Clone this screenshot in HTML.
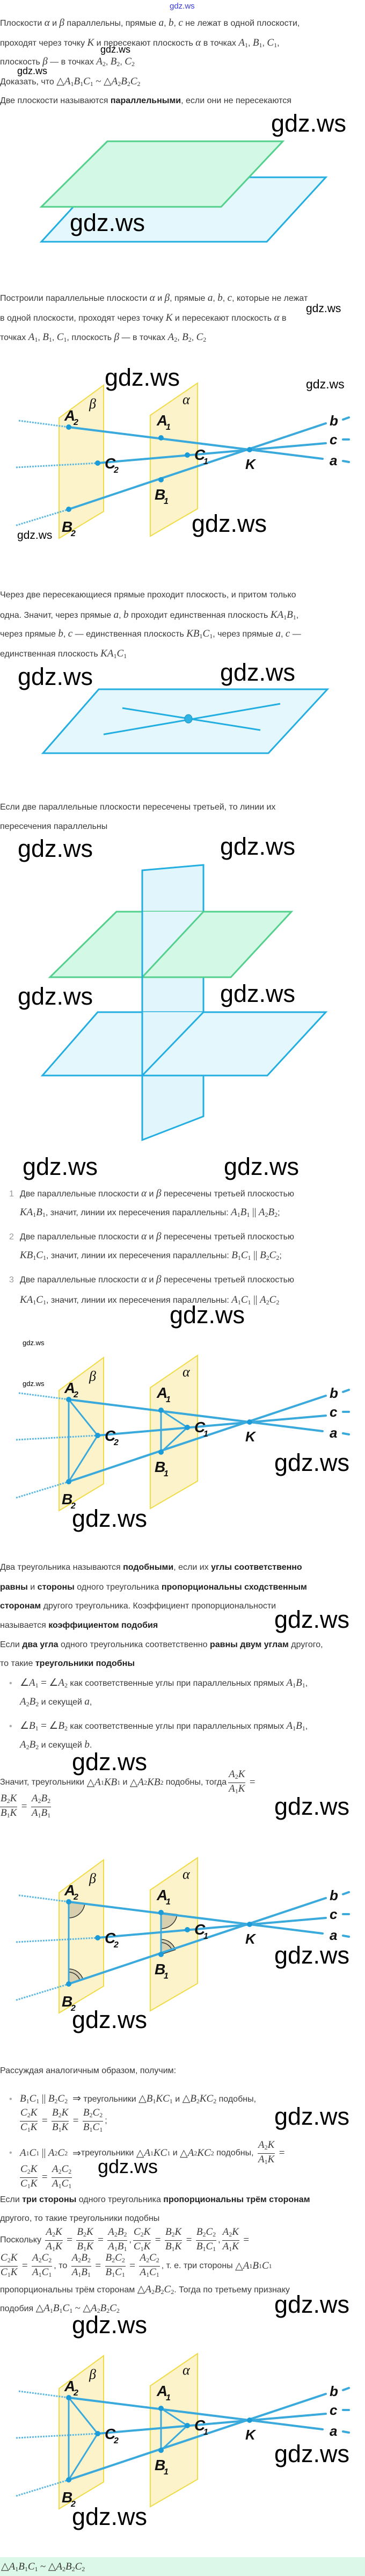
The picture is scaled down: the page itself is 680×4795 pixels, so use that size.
<!DOCTYPE html>
<html><head><meta charset="utf-8">
<style>
html,body{margin:0;padding:0}
body{width:680px;height:4795px;position:relative;background:#fff;overflow:hidden;font-family:"Liberation Sans",sans-serif;color:#3a3a3a}
.t{position:absolute;white-space:nowrap;font-size:16px;line-height:22px}
.m{font-family:"Liberation Serif",serif;font-style:italic;font-size:19px}
.r{font-family:"Liberation Serif",serif;font-size:19px}
sub{font-size:12px;vertical-align:-3px;font-style:normal;font-family:"Liberation Serif",serif}
b{color:#222}
.w{position:absolute;font-family:"Liberation Sans",sans-serif;font-size:45px;line-height:45px;color:#000;white-space:nowrap}
.ws{position:absolute;font-family:"Liberation Sans",sans-serif;color:#000;white-space:nowrap}
.fl{position:absolute;white-space:nowrap;display:flex;align-items:center;font-size:16px;height:46px}
.f{display:inline-flex;flex-direction:column;text-align:center;margin:0 3px}
.f>span{display:block;line-height:21px;padding:0 1px}
.f>span:first-child{border-bottom:1px solid #333}
.n{color:#999;display:inline-block;width:37px;padding-left:17px;box-sizing:border-box}
svg text{font-family:"Liberation Sans Narrow","Liberation Sans",sans-serif;font-style:italic;font-weight:bold;fill:#111}
</style></head><body>
<svg width="680" height="4795" style="position:absolute;left:0;top:0">
<!-- diagram 1: parallel planes -->
<polygon points="187,330 607,330 497,450 77,450" fill="#e3f7fd" stroke="#22aee0" stroke-width="3"/>
<polygon points="200,263 527,263 412,385 77,385" fill="#d3f8e6" stroke="#52d08c" stroke-width="3"/>

<!-- plane with intersecting lines -->
<polygon points="184,1283 610,1283 500,1402 80,1402" fill="#e3f7fd" stroke="#22aee0" stroke-width="3"/>
<line x1="228" y1="1318" x2="485" y2="1359" stroke="#22aee0" stroke-width="3"/>
<line x1="193" y1="1367" x2="522" y2="1310" stroke="#22aee0" stroke-width="3"/>
<ellipse cx="351" cy="1338" rx="7" ry="8" fill="#2db3e4" stroke="#1a90c0" stroke-width="1"/>

<!-- three planes -->
<polygon points="265,1620 379,1610 379,2078 265,2122" fill="#e0f6fc" stroke="#22aee0" stroke-width="3"/>
<polygon points="182,1884 607,1884 498,2002 79,2002" fill="#e3f7fd" stroke="#22aee0" stroke-width="3"/>
<polygon points="265,1884 379,1884 265,2002" fill="#e0f6fc"/>
<polyline points="379,1884 265,2002" fill="none" stroke="#22aee0" stroke-width="3"/>
<line x1="265" y1="1884" x2="265" y2="2122" stroke="#22aee0" stroke-width="3"/>
<polygon points="217,1697 543,1697 430,1819 93,1819" fill="#d3f8e6" stroke="#52d08c" stroke-width="3"/>
<polygon points="265,1697 379,1697 265,1819" fill="#e0f6fc"/>
<polyline points="379,1697 265,1819" fill="none" stroke="#52d08c" stroke-width="3"/>
<line x1="265" y1="1620" x2="265" y2="2122" stroke="#22aee0" stroke-width="3"/>

<!-- instance 1 -->
<g transform="translate(0,0)">
<polygon points="110,778 193,717 193,952 110,1002" fill="#fcf1c2" fill-opacity="0.85" stroke="#f0dc48" stroke-width="2"/>
<polygon points="280,773 368,713 368,947 280,998" fill="#fcf1c2" fill-opacity="0.85" stroke="#f0dc48" stroke-width="2"/>
<g stroke="#5ab8e2" stroke-width="3" stroke-dasharray="3 2"><line x1="35" y1="783" x2="128" y2="795"/><line x1="30" y1="870" x2="182" y2="862"/><line x1="30" y1="978" x2="128" y2="948"/></g>
<g stroke="#3aa9dc" stroke-width="4" stroke-linecap="round"><line x1="128" y1="795" x2="601" y2="854"/><line x1="128" y1="948" x2="607" y2="788"/><line x1="182" y1="862" x2="607" y2="825"/><line x1="639" y1="781" x2="650" y2="777"/><line x1="639" y1="818" x2="650" y2="818"/><line x1="639" y1="858" x2="650" y2="860"/></g>
<g fill="#1b9bd8"><circle cx="128" cy="795" r="5"/><circle cx="300" cy="815" r="5"/><circle cx="349" cy="847" r="5"/><circle cx="182" cy="862" r="5"/><circle cx="300" cy="893" r="5"/><circle cx="128" cy="948" r="5"/><circle cx="465" cy="837" r="5"/></g>
<text x="120" y="783" font-size="28">A</text><text x="137" y="791" font-size="16">2</text>
<text x="292" y="792" font-size="28">A</text><text x="309" y="800" font-size="16">1</text>
<text x="362" y="856" font-size="28">C</text><text x="379" y="864" font-size="16">1</text>
<text x="195" y="872" font-size="28">C</text><text x="212" y="880" font-size="16">2</text>
<text x="288" y="930" font-size="28">B</text><text x="305" y="938" font-size="16">1</text>
<text x="115" y="990" font-size="28">B</text><text x="132" y="998" font-size="16">2</text>
<text x="457" y="873" font-size="26">K</text>
<text x="614" y="792" font-size="26">b</text><text x="614" y="827" font-size="26">c</text><text x="614" y="866" font-size="26">a</text>
<text x="166" y="760" font-size="26" style="font-family:'Liberation Serif',serif;font-weight:normal">β</text>
<text x="340" y="752" font-size="26" style="font-family:'Liberation Serif',serif;font-weight:normal">α</text>
</g>

<!-- instance 2 -->
<g transform="translate(0,1810)">
<polygon points="110,778 193,717 193,952 110,1002" fill="#fcf1c2" fill-opacity="0.85" stroke="#f0dc48" stroke-width="2"/>
<polygon points="280,773 368,713 368,947 280,998" fill="#fcf1c2" fill-opacity="0.85" stroke="#f0dc48" stroke-width="2"/>
<g stroke="#5ab8e2" stroke-width="3" stroke-dasharray="3 2"><line x1="35" y1="783" x2="128" y2="795"/><line x1="30" y1="870" x2="182" y2="862"/><line x1="30" y1="978" x2="128" y2="948"/></g>
<g stroke="#3aa9dc" stroke-width="4" stroke-linecap="round"><line x1="128" y1="795" x2="601" y2="854"/><line x1="128" y1="948" x2="607" y2="788"/><line x1="182" y1="862" x2="607" y2="825"/><line x1="639" y1="781" x2="650" y2="777"/><line x1="639" y1="818" x2="650" y2="818"/><line x1="639" y1="858" x2="650" y2="860"/></g>
<g stroke="#3aa9dc" stroke-width="3"><line x1="128" y1="795" x2="128" y2="948"/><line x1="128" y1="795" x2="182" y2="862"/><line x1="182" y1="862" x2="128" y2="948"/><line x1="300" y1="815" x2="300" y2="893"/><line x1="300" y1="815" x2="349" y2="847"/><line x1="349" y1="847" x2="300" y2="893"/></g>
<g fill="#1b9bd8"><circle cx="128" cy="795" r="5"/><circle cx="300" cy="815" r="5"/><circle cx="349" cy="847" r="5"/><circle cx="182" cy="862" r="5"/><circle cx="300" cy="893" r="5"/><circle cx="128" cy="948" r="5"/><circle cx="465" cy="837" r="5"/></g>
<text x="120" y="783" font-size="28">A</text><text x="137" y="791" font-size="16">2</text>
<text x="292" y="792" font-size="28">A</text><text x="309" y="800" font-size="16">1</text>
<text x="362" y="856" font-size="28">C</text><text x="379" y="864" font-size="16">1</text>
<text x="195" y="872" font-size="28">C</text><text x="212" y="880" font-size="16">2</text>
<text x="288" y="930" font-size="28">B</text><text x="305" y="938" font-size="16">1</text>
<text x="115" y="990" font-size="28">B</text><text x="132" y="998" font-size="16">2</text>
<text x="457" y="873" font-size="26">K</text>
<text x="614" y="792" font-size="26">b</text><text x="614" y="827" font-size="26">c</text><text x="614" y="866" font-size="26">a</text>
<text x="166" y="760" font-size="26" style="font-family:'Liberation Serif',serif;font-weight:normal">β</text>
<text x="340" y="752" font-size="26" style="font-family:'Liberation Serif',serif;font-weight:normal">α</text>
</g>

<!-- instance 3 -->
<g transform="translate(0,2745)">
<polygon points="110,778 193,717 193,952 110,1002" fill="#fcf1c2" fill-opacity="0.85" stroke="#f0dc48" stroke-width="2"/>
<polygon points="280,773 368,713 368,947 280,998" fill="#fcf1c2" fill-opacity="0.85" stroke="#f0dc48" stroke-width="2"/>
<g fill="#d8cfae" stroke="#333" stroke-width="1.5">
<path d="M128,795 L157.8,798.7 A30,30 0 0 1 128,825 Z"/>
<path d="M300,815 L329.8,818.7 A30,30 0 0 1 300,845 Z"/>
<path d="M128,948 L128,920 A28,28 0 0 1 154.6,939.3 Z"/><path d="M128,926 A22,22 0 0 1 148.9,941.2" fill="none"/>
<path d="M300,893 L300,865 A28,28 0 0 1 326.6,884.3 Z"/><path d="M300,871 A22,22 0 0 1 320.9,886.2" fill="none"/>
</g>
<g stroke="#5ab8e2" stroke-width="3" stroke-dasharray="3 2"><line x1="35" y1="783" x2="128" y2="795"/><line x1="30" y1="870" x2="182" y2="862"/><line x1="30" y1="978" x2="128" y2="948"/></g>
<g stroke="#3aa9dc" stroke-width="4" stroke-linecap="round"><line x1="128" y1="795" x2="601" y2="854"/><line x1="128" y1="948" x2="607" y2="788"/><line x1="182" y1="862" x2="607" y2="825"/><line x1="639" y1="781" x2="650" y2="777"/><line x1="639" y1="818" x2="650" y2="818"/><line x1="639" y1="858" x2="650" y2="860"/></g>
<g stroke="#3aa9dc" stroke-width="3"><line x1="128" y1="795" x2="128" y2="948"/><line x1="300" y1="815" x2="300" y2="893"/></g>
<g fill="#1b9bd8"><circle cx="128" cy="795" r="5"/><circle cx="300" cy="815" r="5"/><circle cx="349" cy="847" r="5"/><circle cx="182" cy="862" r="5"/><circle cx="300" cy="893" r="5"/><circle cx="128" cy="948" r="5"/><circle cx="465" cy="837" r="5"/></g>
<text x="120" y="783" font-size="28">A</text><text x="137" y="791" font-size="16">2</text>
<text x="292" y="792" font-size="28">A</text><text x="309" y="800" font-size="16">1</text>
<text x="362" y="856" font-size="28">C</text><text x="379" y="864" font-size="16">1</text>
<text x="195" y="872" font-size="28">C</text><text x="212" y="880" font-size="16">2</text>
<text x="288" y="930" font-size="28">B</text><text x="305" y="938" font-size="16">1</text>
<text x="115" y="990" font-size="28">B</text><text x="132" y="998" font-size="16">2</text>
<text x="457" y="873" font-size="26">K</text>
<text x="614" y="792" font-size="26">b</text><text x="614" y="827" font-size="26">c</text><text x="614" y="866" font-size="26">a</text>
<text x="166" y="760" font-size="26" style="font-family:'Liberation Serif',serif;font-weight:normal">β</text>
<text x="340" y="752" font-size="26" style="font-family:'Liberation Serif',serif;font-weight:normal">α</text>
</g>

<!-- instance 4 -->
<g transform="translate(0,3668)">
<polygon points="110,778 193,717 193,952 110,1002" fill="#fcf1c2" fill-opacity="0.85" stroke="#f0dc48" stroke-width="2"/>
<polygon points="280,773 368,713 368,947 280,998" fill="#fcf1c2" fill-opacity="0.85" stroke="#f0dc48" stroke-width="2"/>
<g stroke="#5ab8e2" stroke-width="3" stroke-dasharray="3 2"><line x1="35" y1="783" x2="128" y2="795"/><line x1="30" y1="870" x2="182" y2="862"/><line x1="30" y1="978" x2="128" y2="948"/></g>
<g stroke="#3aa9dc" stroke-width="4" stroke-linecap="round"><line x1="128" y1="795" x2="601" y2="854"/><line x1="128" y1="948" x2="607" y2="788"/><line x1="182" y1="862" x2="607" y2="825"/><line x1="639" y1="781" x2="650" y2="777"/><line x1="639" y1="818" x2="650" y2="818"/><line x1="639" y1="858" x2="650" y2="860"/></g>
<g stroke="#3aa9dc" stroke-width="3"><line x1="128" y1="795" x2="128" y2="948"/><line x1="128" y1="795" x2="182" y2="862"/><line x1="182" y1="862" x2="128" y2="948"/><line x1="300" y1="815" x2="300" y2="893"/><line x1="300" y1="815" x2="349" y2="847"/><line x1="349" y1="847" x2="300" y2="893"/></g>
<g fill="#1b9bd8"><circle cx="128" cy="795" r="5"/><circle cx="300" cy="815" r="5"/><circle cx="349" cy="847" r="5"/><circle cx="182" cy="862" r="5"/><circle cx="300" cy="893" r="5"/><circle cx="128" cy="948" r="5"/><circle cx="465" cy="837" r="5"/></g>
<text x="120" y="783" font-size="28">A</text><text x="137" y="791" font-size="16">2</text>
<text x="292" y="792" font-size="28">A</text><text x="309" y="800" font-size="16">1</text>
<text x="362" y="856" font-size="28">C</text><text x="379" y="864" font-size="16">1</text>
<text x="195" y="872" font-size="28">C</text><text x="212" y="880" font-size="16">2</text>
<text x="288" y="930" font-size="28">B</text><text x="305" y="938" font-size="16">1</text>
<text x="115" y="990" font-size="28">B</text><text x="132" y="998" font-size="16">2</text>
<text x="457" y="873" font-size="26">K</text>
<text x="614" y="792" font-size="26">b</text><text x="614" y="827" font-size="26">c</text><text x="614" y="866" font-size="26">a</text>
<text x="166" y="760" font-size="26" style="font-family:'Liberation Serif',serif;font-weight:normal">β</text>
<text x="340" y="752" font-size="26" style="font-family:'Liberation Serif',serif;font-weight:normal">α</text>
</g>
</svg>

<!-- header -->
<div class="ws" style="left:316px;top:3px;font-size:15px;color:#3a3ad8">gdz.ws</div>

<div class="t" style="left:0;top:32px">Плоскости <span class="m">α</span> и <span class="m">β</span> параллельны, прямые <span class="m">a</span>, <span class="m">b</span>, <span class="m">c</span> не лежат в одной плоскости,</div>
<div class="t" style="left:0;top:69px">проходят через точку <span class="m">K</span> и пересекают плоскость <span class="m">α</span> в точках <span class="m">A</span><sub>1</sub>, <span class="m">B</span><sub>1</sub>, <span class="m">C</span><sub>1</sub>,</div>
<div class="ws" style="left:187px;top:82px;font-size:18px">gdz.ws</div>
<div class="t" style="left:0;top:104px">плоскость <span class="m">β</span> — в точках <span class="m">A</span><sub>2</sub>, <span class="m">B</span><sub>2</sub>, <span class="m">C</span><sub>2</sub></div>
<div class="ws" style="left:32px;top:122px;font-size:18px">gdz.ws</div>
<div class="t" style="left:0;top:141px">Доказать, что <span class="r">△</span><span class="m">A</span><sub>1</sub><span class="m">B</span><sub>1</sub><span class="m">C</span><sub>1</sub> <span class="r">~</span> <span class="r">△</span><span class="m">A</span><sub>2</sub><span class="m">B</span><sub>2</sub><span class="m">C</span><sub>2</sub></div>
<div class="t" style="left:0;top:177px">Две плоскости называются <b>параллельными</b>, если они не пересекаются</div>
<div class="w" style="left:505px;top:207px">gdz.ws</div>
<div class="w" style="left:130px;top:392px">gdz.ws</div>

<div class="t" style="left:0;top:544px">Построили параллельные плоскости <span class="m">α</span> и <span class="m">β</span>, прямые <span class="m">a</span>, <span class="m">b</span>, <span class="m">c</span>, которые не лежат</div>
<div class="ws" style="left:570px;top:563px;font-size:21px">gdz.ws</div>
<div class="t" style="left:0;top:581px">в одной плоскости, проходят через точку <span class="m">K</span> и пересекают плоскость <span class="m">α</span> в</div>
<div class="t" style="left:0;top:617px">точках <span class="m">A</span><sub>1</sub>, <span class="m">B</span><sub>1</sub>, <span class="m">C</span><sub>1</sub>, плоскость <span class="m">β</span> — в точках <span class="m">A</span><sub>2</sub>, <span class="m">B</span><sub>2</sub>, <span class="m">C</span><sub>2</sub></div>
<div class="w" style="left:195px;top:680px">gdz.ws</div>
<div class="ws" style="left:570px;top:702px;font-size:23px">gdz.ws</div>
<div class="w" style="left:357px;top:952px">gdz.ws</div>
<div class="ws" style="left:32px;top:985px;font-size:21px">gdz.ws</div>

<div class="t" style="left:0;top:1097px">Через две пересекающиеся прямые проходит плоскость, и притом только</div>
<div class="t" style="left:0;top:1134px">одна. Значит, через прямые <span class="m">a</span>, <span class="m">b</span> проходит единственная плоскость <span class="m">KA</span><sub>1</sub><span class="m">B</span><sub>1</sub>,</div>
<div class="t" style="left:0;top:1169px">через прямые <span class="m">b</span>, <span class="m">c</span> — единственная плоскость <span class="m">KB</span><sub>1</sub><span class="m">C</span><sub>1</sub>, через прямые <span class="m">a</span>, <span class="m">c</span> —</div>
<div class="t" style="left:0;top:1206px">единственная плоскость <span class="m">KA</span><sub>1</sub><span class="m">C</span><sub>1</sub></div>
<div class="w" style="left:33px;top:1237px">gdz.ws</div>
<div class="w" style="left:410px;top:1229px">gdz.ws</div>

<div class="t" style="left:0;top:1492px">Если две параллельные плоскости пересечены третьей, то линии их</div>
<div class="t" style="left:0;top:1528px">пересечения параллельны</div>
<div class="w" style="left:33px;top:1557px">gdz.ws</div>
<div class="w" style="left:410px;top:1553px">gdz.ws</div>
<div class="w" style="left:33px;top:1832px">gdz.ws</div>
<div class="w" style="left:410px;top:1827px">gdz.ws</div>
<div class="w" style="left:42px;top:2149px">gdz.ws</div>
<div class="w" style="left:417px;top:2149px">gdz.ws</div>

<div class="t" style="left:0;top:2211px"><span class="n">1</span>Две параллельные плоскости <span class="m">α</span> и <span class="m">β</span> пересечены третьей плоскостью</div>
<div class="t" style="left:37px;top:2246px"><span class="m">KA</span><sub>1</sub><span class="m">B</span><sub>1</sub>, значит, линии их пересечения параллельны: <span class="m">A</span><sub>1</sub><span class="m">B</span><sub>1</sub> <span class="r">||</span> <span class="m">A</span><sub>2</sub><span class="m">B</span><sub>2</sub>;</div>
<div class="t" style="left:0;top:2291px"><span class="n">2</span>Две параллельные плоскости <span class="m">α</span> и <span class="m">β</span> пересечены третьей плоскостью</div>
<div class="t" style="left:37px;top:2326px"><span class="m">KB</span><sub>1</sub><span class="m">C</span><sub>1</sub>, значит, линии их пересечения параллельны: <span class="m">B</span><sub>1</sub><span class="m">C</span><sub>1</sub> <span class="r">||</span> <span class="m">B</span><sub>2</sub><span class="m">C</span><sub>2</sub>;</div>
<div class="t" style="left:0;top:2371px"><span class="n">3</span>Две параллельные плоскости <span class="m">α</span> и <span class="m">β</span> пересечены третьей плоскостью</div>
<div class="t" style="left:37px;top:2409px"><span class="m">KA</span><sub>1</sub><span class="m">C</span><sub>1</sub>, значит, линии их пересечения параллельны: <span class="m">A</span><sub>1</sub><span class="m">C</span><sub>1</sub> <span class="r">||</span> <span class="m">A</span><sub>2</sub><span class="m">C</span><sub>2</sub></div>
<div class="w" style="left:316px;top:2425px">gdz.ws</div>
<div class="ws" style="left:42px;top:2492px;font-size:13px">gdz.ws</div>
<div class="ws" style="left:42px;top:2568px;font-size:13px">gdz.ws</div>
<div class="w" style="left:511px;top:2700px">gdz.ws</div>
<div class="w" style="left:134px;top:2804px">gdz.ws</div>

<div class="t" style="left:0;top:2907px">Два треугольника называются <b>подобными</b>, если их <b>углы соответственно</b></div>
<div class="t" style="left:0;top:2944px"><b>равны</b> и <b>стороны</b> одного треугольника <b>пропорциональны сходственным</b></div>
<div class="t" style="left:0;top:2979px"><b>сторонам</b> другого треугольника. Коэффициент пропорциональности</div>
<div class="t" style="left:0;top:3015px">называется <b>коэффициентом подобия</b></div>
<div class="w" style="left:511px;top:2992px">gdz.ws</div>
<div class="t" style="left:0;top:3051px">Если <b>два угла</b> одного треугольника соответственно <b>равны двум углам</b> другого,</div>
<div class="t" style="left:0;top:3086px">то такие <b>треугольники подобны</b></div>
<div class="t" style="left:17px;top:3122px"><span style="color:#aaa;display:inline-block;width:20px">•</span><span class="r">∠</span><span class="m">A</span><sub>1</sub> <span class="r">=</span> <span class="r">∠</span><span class="m">A</span><sub>2</sub> как соответственные углы при параллельных прямых <span class="m">A</span><sub>1</sub><span class="m">B</span><sub>1</sub>,</div>
<div class="t" style="left:37px;top:3157px"><span class="m">A</span><sub>2</sub><span class="m">B</span><sub>2</sub> и секущей <span class="m">a</span>,</div>
<div class="t" style="left:17px;top:3202px"><span style="color:#aaa;display:inline-block;width:20px">•</span><span class="r">∠</span><span class="m">B</span><sub>1</sub> <span class="r">=</span> <span class="r">∠</span><span class="m">B</span><sub>2</sub> как соответственные углы при параллельных прямых <span class="m">A</span><sub>1</sub><span class="m">B</span><sub>1</sub>,</div>
<div class="t" style="left:37px;top:3237px"><span class="m">A</span><sub>2</sub><span class="m">B</span><sub>2</sub> и секущей <span class="m">b</span>.</div>
<div class="w" style="left:134px;top:3257px">gdz.ws</div>
<div class="fl" style="left:0;top:3295px">Значит, треугольники&nbsp;<span class="r">△</span><span class="m">A</span><sub>1</sub><span class="m">KB</span><sub>1</sub>&nbsp;и&nbsp;<span class="r">△</span><span class="m">A</span><sub>2</sub><span class="m">KB</span><sub>2</sub>&nbsp;подобны, тогда <span class="f"><span><span class="m">A</span><sub>2</sub><span class="m">K</span></span><span><span class="m">A</span><sub>1</sub><span class="m">K</span></span></span>&nbsp;<span class="r">=</span></div>
<div class="fl" style="left:0;top:3340px"><span class="f" style="margin-left:0"><span><span class="m">B</span><sub>2</sub><span class="m">K</span></span><span><span class="m">B</span><sub>1</sub><span class="m">K</span></span></span>&nbsp;<span class="r">=</span>&nbsp;<span class="f"><span><span class="m">A</span><sub>2</sub><span class="m">B</span><sub>2</sub></span><span><span class="m">A</span><sub>1</sub><span class="m">B</span><sub>1</sub></span></span></div>
<div class="w" style="left:511px;top:3340px">gdz.ws</div>
<div class="w" style="left:511px;top:3617px">gdz.ws</div>
<div class="w" style="left:134px;top:3737px">gdz.ws</div>

<div class="t" style="left:0;top:3844px">Рассуждая аналогичным образом, получим:</div>
<div class="t" style="left:17px;top:3896px"><span style="color:#aaa;display:inline-block;width:20px">•</span><span class="m">B</span><sub>1</sub><span class="m">C</span><sub>1</sub> <span class="r">||</span> <span class="m">B</span><sub>2</sub><span class="m">C</span><sub>2</sub> &nbsp;<span class="r">⇒</span> треугольники <span class="r">△</span><span class="m">B</span><sub>1</sub><span class="m">KC</span><sub>1</sub> и <span class="r">△</span><span class="m">B</span><sub>2</sub><span class="m">KC</span><sub>2</sub> подобны,</div>
<div class="fl" style="left:34px;top:3925px"><span class="f"><span><span class="m">C</span><sub>2</sub><span class="m">K</span></span><span><span class="m">C</span><sub>1</sub><span class="m">K</span></span></span>&nbsp;<span class="r">=</span>&nbsp;<span class="f"><span><span class="m">B</span><sub>2</sub><span class="m">K</span></span><span><span class="m">B</span><sub>1</sub><span class="m">K</span></span></span>&nbsp;<span class="r">=</span>&nbsp;<span class="f"><span><span class="m">B</span><sub>2</sub><span class="m">C</span><sub>2</sub></span><span><span class="m">B</span><sub>1</sub><span class="m">C</span><sub>1</sub></span></span>;</div>
<div class="w" style="left:511px;top:3917px">gdz.ws</div>
<div class="fl" style="left:17px;top:3985px"><span style="color:#aaa;display:inline-block;width:20px">•</span><span class="m">A</span><sub>1</sub><span class="m">C</span><sub>1</sub>&nbsp;<span class="r">||</span>&nbsp;<span class="m">A</span><sub>2</sub><span class="m">C</span><sub>2</sub>&nbsp;&nbsp;<span class="r">⇒</span>треугольники&nbsp;<span class="r">△</span><span class="m">A</span><sub>1</sub><span class="m">KC</span><sub>1</sub>&nbsp;и&nbsp;<span class="r">△</span><span class="m">A</span><sub>2</sub><span class="m">KC</span><sub>2</sub>&nbsp;подобны,&nbsp;<span class="f"><span><span class="m">A</span><sub>2</sub><span class="m">K</span></span><span><span class="m">A</span><sub>1</sub><span class="m">K</span></span></span>&nbsp;<span class="r">=</span></div>
<div class="fl" style="left:34px;top:4030px"><span class="f"><span><span class="m">C</span><sub>2</sub><span class="m">K</span></span><span><span class="m">C</span><sub>1</sub><span class="m">K</span></span></span>&nbsp;<span class="r">=</span>&nbsp;<span class="f"><span><span class="m">A</span><sub>2</sub><span class="m">C</span><sub>2</sub></span><span><span class="m">A</span><sub>1</sub><span class="m">C</span><sub>1</sub></span></span></div>
<div class="ws" style="left:182px;top:4012px;font-size:36px">gdz.ws</div>

<div class="t" style="left:0;top:4084px">Если <b>три стороны</b> одного треугольника <b>пропорциональны трём сторонам</b></div>
<div class="t" style="left:0;top:4119px">другого, то такие треугольники подобны</div>
<div class="fl" style="left:0;top:4147px">Поскольку&nbsp;<span class="f"><span><span class="m">A</span><sub>2</sub><span class="m">K</span></span><span><span class="m">A</span><sub>1</sub><span class="m">K</span></span></span>&nbsp;<span class="r">=</span>&nbsp;<span class="f"><span><span class="m">B</span><sub>2</sub><span class="m">K</span></span><span><span class="m">B</span><sub>1</sub><span class="m">K</span></span></span>&nbsp;<span class="r">=</span>&nbsp;<span class="f"><span><span class="m">A</span><sub>2</sub><span class="m">B</span><sub>2</sub></span><span><span class="m">A</span><sub>1</sub><span class="m">B</span><sub>1</sub></span></span>,<span class="f"><span><span class="m">C</span><sub>2</sub><span class="m">K</span></span><span><span class="m">C</span><sub>1</sub><span class="m">K</span></span></span>&nbsp;<span class="r">=</span>&nbsp;<span class="f"><span><span class="m">B</span><sub>2</sub><span class="m">K</span></span><span><span class="m">B</span><sub>1</sub><span class="m">K</span></span></span>&nbsp;<span class="r">=</span>&nbsp;<span class="f"><span><span class="m">B</span><sub>2</sub><span class="m">C</span><sub>2</sub></span><span><span class="m">B</span><sub>1</sub><span class="m">C</span><sub>1</sub></span></span>,<span class="f"><span><span class="m">A</span><sub>2</sub><span class="m">K</span></span><span><span class="m">A</span><sub>1</sub><span class="m">K</span></span></span>&nbsp;<span class="r">=</span></div>
<div class="fl" style="left:0;top:4195px"><span class="f" style="margin-left:0"><span><span class="m">C</span><sub>2</sub><span class="m">K</span></span><span><span class="m">C</span><sub>1</sub><span class="m">K</span></span></span>&nbsp;<span class="r">=</span>&nbsp;<span class="f"><span><span class="m">A</span><sub>2</sub><span class="m">C</span><sub>2</sub></span><span><span class="m">A</span><sub>1</sub><span class="m">C</span><sub>1</sub></span></span>, то&nbsp;<span class="f"><span><span class="m">A</span><sub>2</sub><span class="m">B</span><sub>2</sub></span><span><span class="m">A</span><sub>1</sub><span class="m">B</span><sub>1</sub></span></span>&nbsp;<span class="r">=</span>&nbsp;<span class="f"><span><span class="m">B</span><sub>2</sub><span class="m">C</span><sub>2</sub></span><span><span class="m">B</span><sub>1</sub><span class="m">C</span><sub>1</sub></span></span>&nbsp;<span class="r">=</span>&nbsp;<span class="f"><span><span class="m">A</span><sub>2</sub><span class="m">C</span><sub>2</sub></span><span><span class="m">A</span><sub>1</sub><span class="m">C</span><sub>1</sub></span></span>, т. е. три стороны&nbsp;<span class="r">△</span><span class="m">A</span><sub>1</sub><span class="m">B</span><sub>1</sub><span class="m">C</span><sub>1</sub></div>
<div class="t" style="left:0;top:4251px">пропорциональны трём сторонам <span class="r">△</span><span class="m">A</span><sub>2</sub><span class="m">B</span><sub>2</sub><span class="m">C</span><sub>2</sub>. Тогда по третьему признаку</div>
<div class="t" style="left:0;top:4286px">подобия <span class="r">△</span><span class="m">A</span><sub>1</sub><span class="m">B</span><sub>1</sub><span class="m">C</span><sub>1</sub> <span class="r">~</span> <span class="r">△</span><span class="m">A</span><sub>2</sub><span class="m">B</span><sub>2</sub><span class="m">C</span><sub>2</sub></div>
<div class="w" style="left:511px;top:4267px">gdz.ws</div>
<div class="w" style="left:134px;top:4305px">gdz.ws</div>
<div class="w" style="left:511px;top:4545px">gdz.ws</div>
<div class="w" style="left:134px;top:4662px">gdz.ws</div>

<div style="position:absolute;left:0;top:4760px;width:680px;height:35px;background:#dcf8e8"></div>
<div class="t" style="left:2px;top:4767px;color:#333"><span class="r">△</span><span class="m">A</span><sub>1</sub><span class="m">B</span><sub>1</sub><span class="m">C</span><sub>1</sub> <span class="r">~</span> <span class="r">△</span><span class="m">A</span><sub>2</sub><span class="m">B</span><sub>2</sub><span class="m">C</span><sub>2</sub></div>
</body></html>
